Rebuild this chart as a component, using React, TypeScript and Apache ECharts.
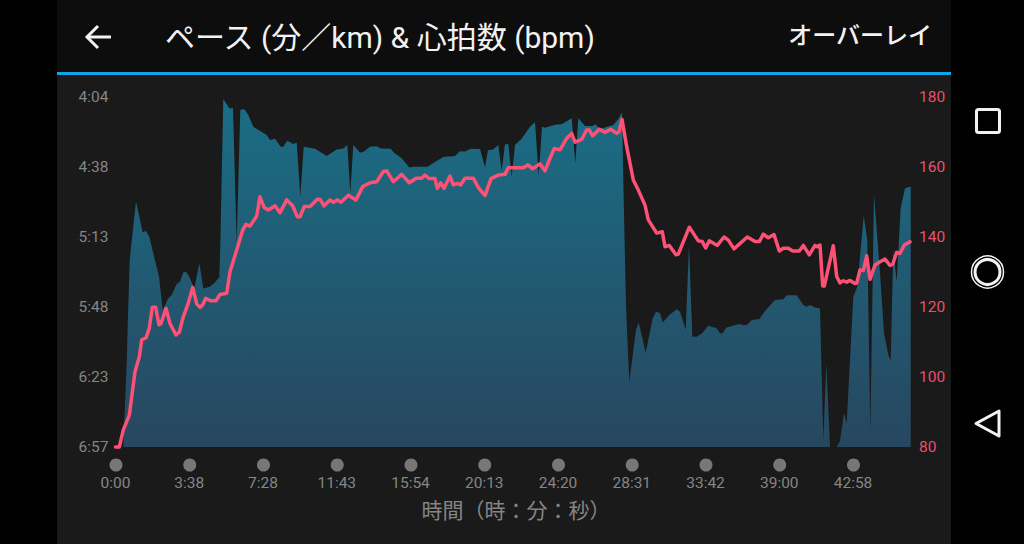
import React, { useEffect, useRef } from "react";
import * as echarts from "echarts";

const titleText = "ペース (分／km) & 心拍数 (bpm)";
const overlayText = "オーバーレイ";
const xAxisTitle = "時間（時：分：秒）";
const xTickLabels = ["0:00", "3:38", "7:28", "11:43", "15:54", "20:13", "24:20", "28:31", "33:42", "39:00", "42:58"];
const paceTickLabels = ["4:04", "4:38", "5:13", "5:48", "6:23", "6:57"];
const hrTicks = [80, 100, 120, 140, 160, 180];
const sampleMax = 795.5;
const sampleStep = 73.75;
const paceMin = 244;
const paceMax = 417;

const paceX = [0,7.8,11.2,12.8,14.2,20.5,27.2,30.5,33.8,43.5,47.2,52.8,56.2,61.2,64.5,67.8,70.5,73.8,78.8,83.8,87.8,94.5,99.5,103.8,104.8,107.8,113.8,117.5,121.2,124.8,128.8,132.8,137.8,151.2,154.5,159.5,165.2,167.8,171.8,177.8,181.2,184.8,188.2,199.5,211.2,221.2,227.8,231.8,234.8,237.8,244.5,248.5,254.5,261.2,265.2,275.2,278.5,286.2,293.8,297.8,311.8,321.2,327.8,339.5,344.5,349.5,355.2,364.5,369.5,372.5,377.8,382.8,386.2,389.5,392.8,396.2,399.5,406.2,414.5,419.5,423.2,426.5,429.5,439.5,446.2,456.2,459.8,462.8,469.5,477.2,479.8,484.5,497.8,502.8,506.5,507.8,510.5,513.8,520.5,523.2,530.2,537.2,540.5,544.5,547.2,553.8,561.2,564.5,570.2,573.5,576.8,581.2,587.2,592.8,597.2,600.5,604.5,607.2,610.5,616.2,623.8,627.8,631.2,636.2,643.8,649.5,659.5,667.8,671.2,681.2,687.8,691.2,694.5,699.5,704.5,707.8,710.8,714.5,721.2,724.5,728.5,731.2,737.8,741.8,748.2,751.8,754.8,758.5,764.5,768.5,772.8,775.2,777.8,781.2,785.2,789.5,795.2];
const paceSec = [417,417,375.5,347.7,324.6,295.8,310.9,310.2,313.1,332.8,349.3,343.5,341.9,336.4,335.3,330.8,330.2,332.8,338.6,326.2,338.6,337.8,335.6,333.1,318,245,249.6,249.6,316.3,250.4,249.9,252.9,258.7,262.8,265.3,264.6,268.6,268.6,265.6,267.2,266.6,293.3,268.6,269.6,273.2,269.9,269.4,267.7,291.6,267.7,271.5,271,268.6,268.4,269.4,269.6,271.5,274.3,278.9,278.5,278.5,275.6,273.7,273.2,270.8,271,269.6,269.7,278.7,270.3,269.9,267.7,280.4,267.4,267.4,283.4,267.7,264.6,258.7,256.5,283,258.7,259.2,257.7,257.5,254.5,276.8,254.5,258.3,258.3,257.5,259.8,257.8,255,251.6,285,347.7,384.7,359.2,355.4,370.4,353.4,350.1,350.9,355.4,351.8,348.9,350.1,359.2,317.2,362.5,362.5,360.5,357,357.8,358,360.8,360.8,358,357.2,356.2,356.8,356.7,354.2,353.7,349.8,344.3,344,342,342,346.8,347.7,346.8,348.1,348.6,413.5,375.6,417,417,413.9,400.3,405.3,342.7,337.8,302.8,314.7,410.2,292.4,331.1,360.8,371.5,374.3,319.6,335.3,299,289.1,288.3];

const hrX = [0,3.8,7.8,13.8,19.5,23.8,26.2,30.5,33.8,36.8,40.2,43.5,45.5,50.5,54.5,60.5,63.8,67.8,72.8,77.2,81.2,84.5,87.2,90.2,95.2,100.5,104.5,111.2,114.5,121.2,127.2,130.5,134.5,141.2,144.5,148.5,152.8,159.5,164.5,171.2,177.2,181.8,184.5,188.8,194.5,201.8,204.5,208.5,214.5,217.8,221.8,225.5,232.8,240.5,247.2,254.5,261.2,267.8,271.2,277.8,286.2,293.8,300.5,306.2,309.5,313.8,319.5,321.8,325.2,328.5,334.5,337.8,341.8,345.2,349.5,357.8,362.8,369.5,375.5,382.8,389.5,392.8,407.8,412.2,417.2,424.5,429.5,434.5,438.8,444.5,451.2,456.2,459.5,466.2,471.2,473.8,477.2,483.8,489.5,495.2,501.2,503.5,506.5,511.2,517.8,522.8,529.5,532.8,541.2,546.8,549.5,553.8,560.5,562.8,573.8,582.8,586.8,590.2,593.8,601.8,608.5,612.8,618.5,631.8,639.5,643.8,647.8,652.8,658.5,663.8,667.8,672.8,677.2,683.8,687.8,693.8,699.5,701.8,704.5,707.2,708.8,717.8,721.2,724.5,727.8,731.2,734.5,739.5,741.2,744.5,747.8,751.2,754.5,759.5,763.8,769.5,774.5,777.2,781.2,784.5,788.8,794.5];
const hrBpm = [80,80,84.9,89.1,101.5,105.8,110.6,111.2,113.9,119.9,119.9,114.9,115.3,119.6,115.3,112,112.8,117.2,121.1,125.6,120.9,119.9,120.6,122.5,121.8,121.8,123.6,123.9,130.1,136.3,142,143.6,143.1,146,151.5,148.5,147.7,148.9,146.9,150.6,148.9,145.8,145.8,148.7,148.7,150.8,150.8,148.9,150.6,149.9,150.6,149.9,151.9,150.6,154.4,155.5,155.8,158.7,158.9,155.8,157.9,155.5,156.8,156.8,157.7,156.7,156.7,153.9,155.5,153.9,157.4,154.9,155.3,154.9,156.8,156.8,154.2,151.8,156.7,157.7,157.9,159.8,159.8,160.6,159.5,160.9,158.9,162.5,165.3,164.9,168.2,169.6,167.1,167.9,170.6,170.6,168.9,170.8,169.9,170.8,169.6,170.1,173.6,165.8,156.3,153.4,149.1,144.9,141.1,141.5,137.2,137.6,134.9,135.1,142.8,138.9,138.7,136.9,138.9,137.6,140,139.1,136.6,140,138.7,138.7,140.8,139.8,140.7,136,136.8,136.8,136,136,137.6,134.9,137.6,137.2,137.7,126,126,137.5,128.7,126.9,127.5,127.1,127.6,126.7,126.8,130.6,130.4,134.6,127.9,132,132.8,133.7,131.9,132.2,135.6,135.3,137.7,138.6];

const paceData = paceX.map((x, i) => [x, paceSec[i]]);
const hrData = hrX.map((x, i) => [x, hrBpm[i]]);
const xTickValues = xTickLabels.map((_, i) => i * sampleStep);
const paceTickValues = paceTickLabels.map((_, i) => paceMin + (i * (paceMax - paceMin)) / (paceTickLabels.length - 1));

const FONT = 'Roboto, "Noto Sans CJK JP", sans-serif';
const WHITE = "#f2f2f2";

export default function App() {
  const ref = useRef<HTMLDivElement>(null);
  useEffect(() => {
    const chart = echarts.init(ref.current!, null, { renderer: "svg" });
    chart.setOption({
      animation: false,
      backgroundColor: "#000000",
      textStyle: { fontFamily: FONT },
      grid: [
        { left: 115.5, width: sampleMax, top: 97, height: 350 },
        { left: 116, width: sampleMax, top: 455, height: 20 },
      ],
      xAxis: [
        {
          type: "value",
          gridIndex: 0,
          min: 0,
          max: sampleMax,
          axisLine: { show: false },
          axisTick: { show: false },
          splitLine: { show: false },
          axisLabel: {
            customValues: xTickValues,
            color: "#858585",
            fontSize: 15.5,
            fontFamily: "Roboto",
            margin: 27.5,
            hideOverlap: false,
            formatter: (v: number) => xTickLabels[Math.round(v / sampleStep)],
          },
        },
        { type: "value", gridIndex: 1, min: 0, max: sampleMax, show: false },
      ],
      yAxis: [
        {
          type: "value",
          gridIndex: 0,
          inverse: true,
          min: paceMin,
          max: paceMax,
          position: "left",
          axisLine: { show: false },
          axisTick: { show: false },
          splitLine: { show: false },
          axisLabel: {
            customValues: paceTickValues,
            color: "#858585",
            fontSize: 15.5,
            fontFamily: "Roboto",
            margin: 7,
            padding: [2, 0, 0, 0],
            formatter: (v: number) =>
              paceTickLabels[Math.round(((v - paceMin) / (paceMax - paceMin)) * (paceTickLabels.length - 1))],
          },
        },
        {
          type: "value",
          gridIndex: 0,
          min: 80,
          max: 180,
          position: "right",
          axisLine: { show: false },
          axisTick: { show: false },
          splitLine: { show: false },
          axisLabel: {
            customValues: hrTicks,
            color: "#e8506f",
            fontSize: 15.5,
            fontFamily: "Roboto",
            margin: 8,
            padding: [2, 0, 0, 0],
          },
        },
        { type: "value", gridIndex: 1, min: 0, max: 1, show: false },
      ],
      series: [
        {
          type: "line",
          xAxisIndex: 0,
          yAxisIndex: 0,
          data: paceData,
          symbol: "none",
          lineStyle: { width: 0 },
          areaStyle: {
            origin: "end",
            opacity: 1,
            color: new echarts.graphic.LinearGradient(0, 0, 0, 1, [
              { offset: 0, color: "#1a6e86" },
              { offset: 1, color: "#27475f" },
            ]),
          },
          z: 2,
        },
        {
          type: "line",
          xAxisIndex: 0,
          yAxisIndex: 1,
          data: hrData,
          symbol: "none",
          lineStyle: { width: 3.5, color: "#ff5075", cap: "round", join: "round" },
          clip: false,
          z: 3,
        },
        {
          type: "scatter",
          xAxisIndex: 1,
          yAxisIndex: 2,
          data: xTickValues.map((v) => [v, 0.5]),
          symbol: "circle",
          symbolSize: 13,
          itemStyle: { color: "#8f8f8f" },
          z: 3,
        },
      ],
      graphic: [
        { type: "rect", z: -10, silent: true, shape: { x: 57, y: 0, width: 894, height: 72 }, style: { fill: "#0d0d0d" } },
        { type: "rect", z: -10, silent: true, shape: { x: 57, y: 75, width: 894, height: 469 }, style: { fill: "#1a1a1a" } },
        { type: "rect", z: -9, silent: true, shape: { x: 57, y: 72, width: 894, height: 3 }, style: { fill: "#0fa5e6" } },
        { type: "polyline", z: 5, shape: { points: [[98, 26], [87, 37], [98, 48]] }, style: { stroke: WHITE, lineWidth: 3, fill: "none" } },
        { type: "line", z: 5, shape: { x1: 87, y1: 37, x2: 111, y2: 37 }, style: { stroke: WHITE, lineWidth: 3 } },
        { type: "text", z: 5, x: 165, y: 37, style: { text: titleText, fill: WHITE, fontSize: 30, fontFamily: FONT, verticalAlign: "middle", textAlign: "left" } },
        { type: "text", z: 5, x: 932, y: 36, style: { text: overlayText, fill: WHITE, fontSize: 24, fontFamily: FONT, fontWeight: 500, verticalAlign: "middle", textAlign: "right" } },
        { type: "text", z: 5, x: 516, y: 511, style: { text: xAxisTitle, fill: "#858585", fontSize: 21, fontFamily: FONT, verticalAlign: "middle", textAlign: "center" } },
        { type: "rect", z: 5, shape: { x: 976.5, y: 109.5, width: 23, height: 23, r: 2 }, style: { stroke: WHITE, lineWidth: 3, fill: "none" } },
        { type: "circle", z: 5, shape: { cx: 987.5, cy: 272, r: 16 }, style: { stroke: WHITE, lineWidth: 1.5, fill: "none" } },
        { type: "circle", z: 5, shape: { cx: 987.5, cy: 272, r: 12.5 }, style: { stroke: WHITE, lineWidth: 3, fill: "none" } },
        { type: "polygon", z: 5, shape: { points: [[976, 423.5], [999, 411], [999, 436]] }, style: { stroke: WHITE, lineWidth: 3, fill: "none", lineJoin: "round" } },
      ],
    });
    return () => chart.dispose();
  }, []);
  return <div ref={ref} style={{ position: "absolute", left: 0, top: 0, width: 1024, height: 544 }} />;
}
